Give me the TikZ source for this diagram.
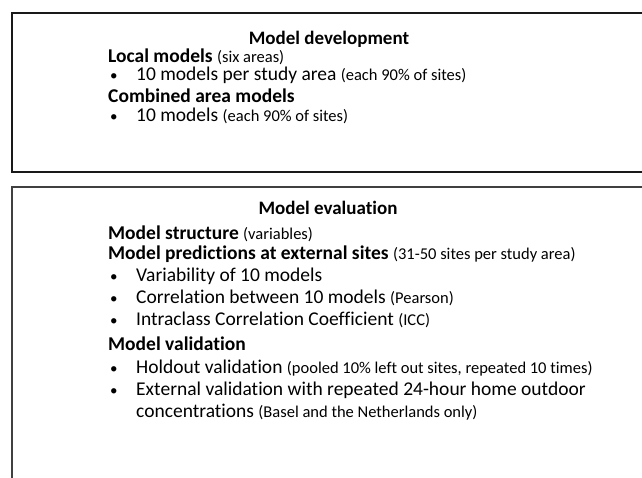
\documentclass[tikz,border=0pt]{standalone}
\usepackage{fontspec}
\setmainfont{Carlito}[Ligatures=NoCommon]
\newcommand\pnote[1]{{\fontsize{16.5}{17}\selectfont #1}}
\newcommand\blt{\makebox[26pt][l]{\fontsize{15}{15}\selectfont •}}
\begin{document}
\begin{tikzpicture}[x=1pt,y=-1pt,
  boxline/.style={line width=1.6pt,draw=black!90},
  boxlinetwo/.style={line width=1.1pt,draw=black!75},
  title/.style={anchor=base,inner sep=0pt,font=\fontsize{19}{20}\selectfont\bfseries},
  line/.style={anchor=base west,inner sep=0pt,font=\fontsize{19.5}{20}\selectfont}]
\useasboundingbox (0,0) rectangle (642,477);
\fill[white] (0,0) rectangle (642,477);
\begin{scope}
\clip (0,0) rectangle (642,477);
\draw[boxline] (660,13) -- (12,13) -- (12,172) -- (660,172);
\draw[boxlinetwo] (660,187) -- (12,187) -- (12,500);
\end{scope}
\node[title] (t1) at (329,44) {Model development};
\node[line] (a1) at (108,62) {\textbf{Local models} \pnote{(six areas)}};
\node[line] (a2) at (110,80) {\blt 10 models per study area \pnote{(each 90\% of sites)}};
\node[line] (a3) at (108,102) {\textbf{Combined area models}};
\node[line] (a4) at (110,121) {\blt 10 models \pnote{(each 90\% of sites)}};
\node[title] (t2) at (328,214) {Model evaluation};
\node[line] (b1) at (108,239) {\textbf{Model structure} \pnote{(variables)}};
\node[line] (b2) at (108,259) {\textbf{Model predictions at external sites} \pnote{(31-50 sites per study area)}};
\node[line] (b3) at (110,281) {\blt Variability of 10 models};
\node[line] (b4) at (110,303) {\blt Correlation between 10 models \pnote{(Pearson)}};
\node[line] (b5) at (110,325) {\blt Intraclass Correlation Coefficient \pnote{(ICC)}};
\node[line] (b6) at (108,350) {\textbf{Model validation}};
\node[line] (b7) at (110,373) {\blt Holdout validation \pnote{(pooled 10\% left out sites, repeated 10 times)}};
\node[line] (b8) at (110,395) {\blt External validation with repeated 24-hour home outdoor};
\node[line] (b9) at (136,417) {concentrations \pnote{(Basel and the Netherlands only)}};
\end{tikzpicture}
\end{document}
